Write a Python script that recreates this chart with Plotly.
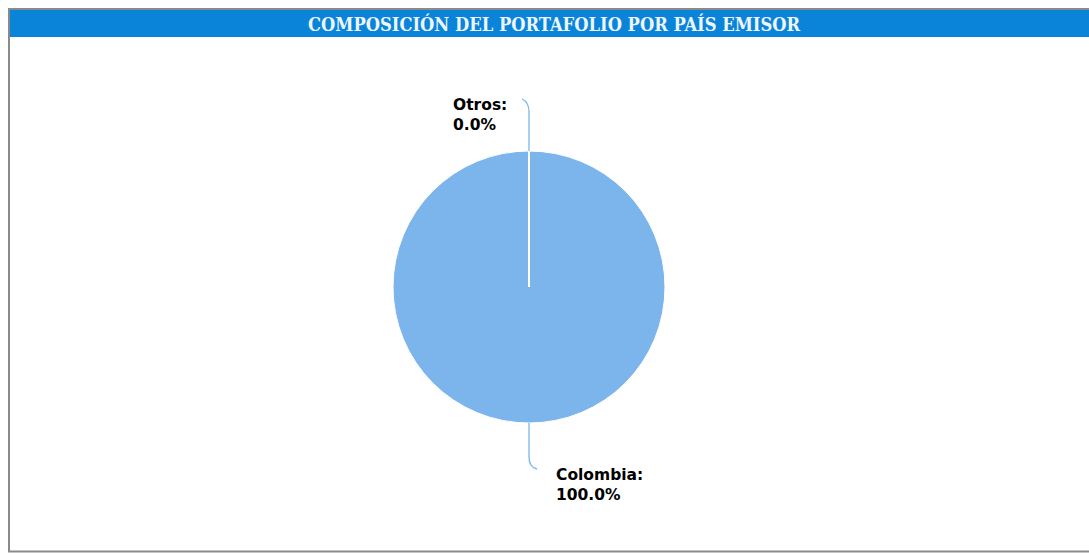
import plotly.graph_objects as go

# Data
labels = ["Colombia", "Otros"]
values = [100.0, 0.0]
title_text = "COMPOSICIÓN DEL PORTAFOLIO POR PAÍS EMISOR"

W, H = 1089, 554
def px(x):
    return x / W
def py(y):
    return 1 - y / H

cx, cy, r = 529, 287, 136

fig = go.Figure()
fig.add_trace(go.Pie(
    labels=labels, values=values, sort=False, direction="clockwise", rotation=0,
    marker=dict(colors=["#7cb5ec", "#434348"], line=dict(color="white", width=1)),
    textinfo="none", hoverinfo="label+percent", showlegend=False,
    domain=dict(x=[px(cx - r), px(cx + r)], y=[py(cy + r), py(cy - r)]),
))

shapes = []
# outer frame
shapes.append(dict(type="rect", xref="paper", yref="paper", x0=px(9), x1=px(1095), y0=py(551.5), y1=py(9),
                   line=dict(color="#8a8a8a", width=2), fillcolor="rgba(0,0,0,0)", layer="below"))
# title bar
shapes.append(dict(type="rect", xref="paper", yref="paper", x0=px(10), x1=px(1095), y0=py(37), y1=py(10),
                   line=dict(width=0), fillcolor="#0a84d8", layer="below"))
# slice border for zero slice (white radial line)
shapes.append(dict(type="line", xref="paper", yref="paper", x0=px(cx), y0=py(cy), x1=px(cx), y1=py(cy - r),
                   line=dict(color="white", width=2)))

def path(points):
    (x0, y0), (x1, y1), (x2, y2), (x3, y3) = points
    return (f"M {px(x0)} {py(y0)} L {px(x1)} {py(y1)} "
            f"Q {px(x2)} {py(y2)} {px(x3)} {py(y3)}")

# connectors
shapes.append(dict(type="path", xref="paper", yref="paper",
                   path=path([(cx, cy - r), (cx, 112), (cx, 102), (522, 99)]),
                   line=dict(color="#7cb5ec", width=1.3)))
shapes.append(dict(type="path", xref="paper", yref="paper",
                   path=path([(cx, cy + r), (cx, 457), (cx, 467), (537, 469)]),
                   line=dict(color="#7cb5ec", width=1.3)))

annotations = [
    dict(text=f"<b>{title_text}</b>", x=px(554), y=py(24), xref="paper", yref="paper", showarrow=False,
         font=dict(family="DejaVu Serif Condensed", size=18.2, color="#eef6ff"), xanchor="center", yanchor="middle"),
    dict(text=f"<b>{labels[1]}:<br>{values[1]:.1f}%</b>", x=px(451), y=py(94), xref="paper", yref="paper",
         showarrow=False, align="left", xanchor="left", yanchor="top",
         font=dict(family="DejaVu Sans", size=15.5, color="black")),
    dict(text=f"<b>{labels[0]}:<br>{values[0]:.1f}%</b>", x=px(554), y=py(464), xref="paper", yref="paper",
         showarrow=False, align="left", xanchor="left", yanchor="top",
         font=dict(family="DejaVu Sans", size=15.5, color="black")),
]

fig.update_layout(width=W, height=H, margin=dict(l=0, r=0, t=0, b=0),
                  paper_bgcolor="white", plot_bgcolor="white",
                  shapes=shapes, annotations=annotations)
fig.write_html("out.html", config={"displayModeBar": False},
               post_script="document.body.style.margin='0';document.body.style.overflow='hidden';")
